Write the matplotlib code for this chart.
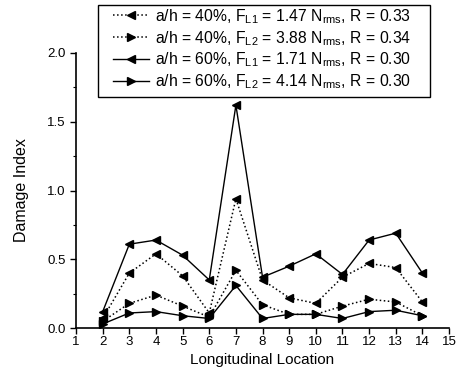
import matplotlib.pyplot as plt
from matplotlib.patches import Rectangle
import numpy as np

plt.rcParams['font.family'] = 'Liberation Sans'
plt.rcParams['mathtext.fontset'] = 'custom'
plt.rcParams['mathtext.rm'] = 'Liberation Sans'
plt.rcParams['mathtext.it'] = 'Liberation Sans'

# longitudinal locations
loc = [2, 3, 4, 5, 6, 7, 8, 9, 10, 11, 12, 13, 14]

# damage index
di_40_l1 = [0.07, 0.40, 0.54, 0.38, 0.11, 0.94, 0.35, 0.22, 0.18, 0.37, 0.47, 0.44, 0.19]
di_40_l2 = [0.05, 0.18, 0.24, 0.16, 0.08, 0.42, 0.17, 0.10, 0.10, 0.16, 0.21, 0.19, 0.09]
di_60_l1 = [0.12, 0.61, 0.64, 0.53, 0.35, 1.62, 0.37, 0.45, 0.54, 0.39, 0.64, 0.69, 0.40]
di_60_l2 = [0.03, 0.11, 0.12, 0.09, 0.07, 0.31, 0.07, 0.10, 0.10, 0.07, 0.12, 0.13, 0.09]

labels = [r'a/h = 40%, F$_{\rm L1}$ = 1.47 N$_{\rm rms}$, R = 0.33',
          r'a/h = 40%, F$_{\rm L2}$ = 3.88 N$_{\rm rms}$, R = 0.34',
          r'a/h = 60%, F$_{\rm L1}$ = 1.71 N$_{\rm rms}$, R = 0.30',
          r'a/h = 60%, F$_{\rm L2}$ = 4.14 N$_{\rm rms}$, R = 0.30']

fig = plt.figure(figsize=(4.61, 3.75), dpi=100)
ax = fig.add_axes([0.165, 0.125, 0.809, 0.734])

ax.plot(loc, di_40_l1, 'k:', marker='<', ms=5.5, lw=1.1, label=labels[0])
ax.plot(loc, di_40_l2, 'k:', marker='>', ms=5.5, lw=1.1, label=labels[1])
ax.plot(loc, di_60_l1, 'k-', marker='<', ms=5.5, lw=1.0, label=labels[2])
ax.plot(loc, di_60_l2, 'k-', marker='>', ms=5.5, lw=1.0, label=labels[3])

ax.set_xlim(1, 15)
ax.set_ylim(0, 2.0)
ax.set_xticks(range(1, 16))
ax.set_yticks(np.arange(0, 2.01, 0.5))
ax.set_yticks(np.arange(0, 2.01, 0.25), minor=True)
ax.yaxis.set_major_formatter(plt.FormatStrFormatter('%.1f'))
ax.spines['top'].set_visible(False)
ax.spines['right'].set_visible(False)
ax.spines['left'].set_linewidth(1.2)
ax.spines['bottom'].set_linewidth(1.2)
ax.tick_params(direction='out', length=4, width=1, labelsize=9.5)
ax.tick_params(axis='x', pad=1.5)
ax.tick_params(which='minor', direction='out', length=2, width=0.8)

ax.set_xlabel('Longitudinal Location', fontsize=11, labelpad=4)
ax.set_ylabel('Damage Index', fontsize=11.5, labelpad=13)

# legend text without its own frame; the box is drawn wider like the original
fig.legend(loc='upper left', bbox_to_anchor=(0.233, 0.996), fontsize=11.3,
           frameon=False, handlelength=2.3, handletextpad=0.4,
           labelspacing=0.2, borderpad=0.35, borderaxespad=0)
fig.patches.append(Rectangle((98 / 461, 1 - 97 / 375), 332 / 461, 92 / 375,
                             transform=fig.transFigure, fill=False,
                             lw=1.0, ec='black', zorder=5))

fig.savefig('out.png', dpi=100)
